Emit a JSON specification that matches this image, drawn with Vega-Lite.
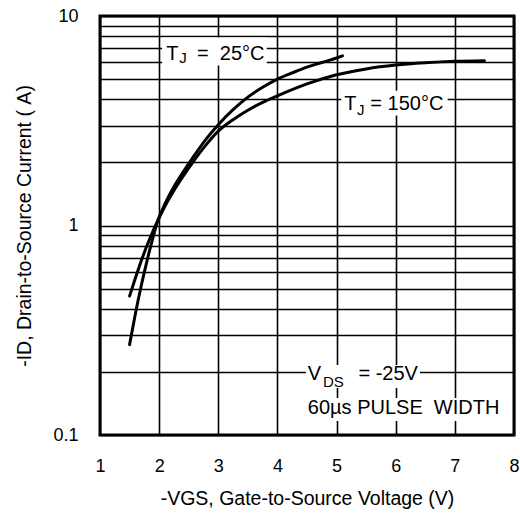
{
  "$schema": "https://vega.github.io/schema/vega-lite/v6.json",
  "width": 414,
  "height": 419,
  "autosize": {"type": "none"},
  "padding": {"left": 100, "top": 16, "right": 6, "bottom": 84},
  "background": "white",
  "config": {
    "view": {"stroke": "black", "strokeWidth": 3},
    "font": "Liberation Sans",
    "text": {"font": "Liberation Sans", "color": "black"}
  },
  "datasets": {
    "curves": [
      {"tj": "25", "vgs": 1.5, "id": 0.27},
      {"tj": "25", "vgs": 1.6, "id": 0.381},
      {"tj": "25", "vgs": 1.7, "id": 0.52},
      {"tj": "25", "vgs": 1.8, "id": 0.688},
      {"tj": "25", "vgs": 1.9, "id": 0.885},
      {"tj": "25", "vgs": 1.96, "id": 1.02},
      {"tj": "25", "vgs": 2.1, "id": 1.27},
      {"tj": "25", "vgs": 2.25, "id": 1.53},
      {"tj": "25", "vgs": 2.4, "id": 1.79},
      {"tj": "25", "vgs": 2.55, "id": 2.07},
      {"tj": "25", "vgs": 2.8, "id": 2.6},
      {"tj": "25", "vgs": 3.0, "id": 3.03},
      {"tj": "25", "vgs": 3.25, "id": 3.57},
      {"tj": "25", "vgs": 3.5, "id": 4.1},
      {"tj": "25", "vgs": 3.75, "id": 4.57},
      {"tj": "25", "vgs": 4.0, "id": 5.0},
      {"tj": "25", "vgs": 4.25, "id": 5.35},
      {"tj": "25", "vgs": 4.5, "id": 5.7},
      {"tj": "25", "vgs": 4.75, "id": 6.0},
      {"tj": "25", "vgs": 5.0, "id": 6.3},
      {"tj": "25", "vgs": 5.1, "id": 6.45},
      {"tj": "150", "vgs": 1.5, "id": 0.46},
      {"tj": "150", "vgs": 1.6, "id": 0.563},
      {"tj": "150", "vgs": 1.7, "id": 0.681},
      {"tj": "150", "vgs": 1.8, "id": 0.809},
      {"tj": "150", "vgs": 1.9, "id": 0.946},
      {"tj": "150", "vgs": 1.96, "id": 1.03},
      {"tj": "150", "vgs": 2.1, "id": 1.24},
      {"tj": "150", "vgs": 2.25, "id": 1.47},
      {"tj": "150", "vgs": 2.4, "id": 1.71},
      {"tj": "150", "vgs": 2.55, "id": 1.97},
      {"tj": "150", "vgs": 2.8, "id": 2.44},
      {"tj": "150", "vgs": 3.0, "id": 2.82},
      {"tj": "150", "vgs": 3.25, "id": 3.2},
      {"tj": "150", "vgs": 3.5, "id": 3.55},
      {"tj": "150", "vgs": 3.75, "id": 3.87},
      {"tj": "150", "vgs": 4.0, "id": 4.16},
      {"tj": "150", "vgs": 4.5, "id": 4.74},
      {"tj": "150", "vgs": 5.0, "id": 5.24},
      {"tj": "150", "vgs": 5.5, "id": 5.59},
      {"tj": "150", "vgs": 6.0, "id": 5.83},
      {"tj": "150", "vgs": 6.5, "id": 5.98},
      {"tj": "150", "vgs": 7.0, "id": 6.08},
      {"tj": "150", "vgs": 7.5, "id": 6.12}
    ],
    "boxes": [
      {"x": 2.05, "x2": 3.82, "y": 5.8, "y2": 7.9},
      {"x": 5.08, "x2": 6.88, "y": 3.35, "y2": 4.4},
      {"x": 4.48, "x2": 6.41, "y": 0.1675, "y2": 0.216},
      {"x": 4.48, "x2": 7.82, "y": 0.1167, "y2": 0.15}
    ],
    "mainText": [
      {"t": "T", "x": 2.12, "y": 6.55},
      {"t": "=\u00a0 25°C", "x": 2.64, "y": 6.55},
      {"t": "T", "x": 5.13, "y": 3.815},
      {"t": "= 150°C", "x": 5.57, "y": 3.815},
      {"t": "V", "x": 4.514, "y": 0.1954},
      {"t": "= -25V", "x": 5.37, "y": 0.1954},
      {"t": "60µs PULSE\u00a0 WIDTH", "x": 4.514, "y": 0.134}
    ],
    "subText": [
      {"t": "J", "x": 2.34, "y": 6.28},
      {"t": "J", "x": 5.345, "y": 3.56},
      {"t": "DS", "x": 4.77, "y": 0.18}
    ]
  },
  "layer": [
    {
      "data": {"name": "boxes"},
      "mark": {"type": "rect", "color": "white"},
      "encoding": {
        "x": {"field": "x", "type": "quantitative", "scale": {"domain": [1, 8], "nice": false, "zero": false},
          "axis": {"title": "-VGS, Gate-to-Source Voltage (V)", "values": [1, 2, 3, 4, 5, 6, 7, 8], "format": "d", "labelFlush": false, "grid": true, "gridColor": "black", "gridWidth": 1.6, "gridOpacity": 1, "ticks": false, "domain": false, "labelPadding": 22, "labelFontSize": 18, "labelColor": "black", "labelFont": "Liberation Sans", "titleFont": "Liberation Sans", "titleFontSize": 19.5, "titleFontWeight": "normal", "titleColor": "black", "titlePadding": 14}},
        "x2": {"field": "x2"},
        "y": {"field": "y", "type": "quantitative", "scale": {"type": "log", "domain": [0.1, 10], "nice": false},
          "axis": {"title": "-ID, Drain-to-Source Current (\u00a0A)", "values": [0.1, 0.2, 0.3, 0.4, 0.5, 0.6, 0.7, 0.8, 0.9, 1, 2, 3, 4, 5, 6, 7, 8, 9, 10], "format": "~g", "labelExpr": "datum.value == 0.1 || datum.value == 1 || datum.value == 10 ? datum.label : ''", "labelOverlap": false, "labelFlush": false, "grid": true, "gridColor": "black", "gridWidth": 1.6, "gridOpacity": 1, "ticks": false, "domain": false, "labelPadding": 22, "labelFontSize": 18, "labelColor": "black", "labelFont": "Liberation Sans", "titleFont": "Liberation Sans", "titleFontSize": 19.5, "titleFontWeight": "normal", "titleColor": "black", "titlePadding": 18}},
        "y2": {"field": "y2"}
      }
    },
    {
      "data": {"name": "mainText"},
      "mark": {"type": "text", "align": "left", "baseline": "middle", "fontSize": 20, "font": "Liberation Sans", "color": "black"},
      "encoding": {
        "x": {"field": "x", "type": "quantitative"},
        "y": {"field": "y", "type": "quantitative"},
        "text": {"field": "t"}
      }
    },
    {
      "data": {"name": "subText"},
      "mark": {"type": "text", "align": "left", "baseline": "middle", "fontSize": 15, "font": "Liberation Sans", "color": "black"},
      "encoding": {
        "x": {"field": "x", "type": "quantitative"},
        "y": {"field": "y", "type": "quantitative"},
        "text": {"field": "t"}
      }
    },
    {
      "data": {"name": "curves"},
      "mark": {"type": "line", "interpolate": "monotone", "strokeWidth": 3, "color": "black", "strokeCap": "round"},
      "encoding": {
        "x": {"field": "vgs", "type": "quantitative"},
        "y": {"field": "id", "type": "quantitative"},
        "detail": {"field": "tj"}
      }
    }
  ]
}
